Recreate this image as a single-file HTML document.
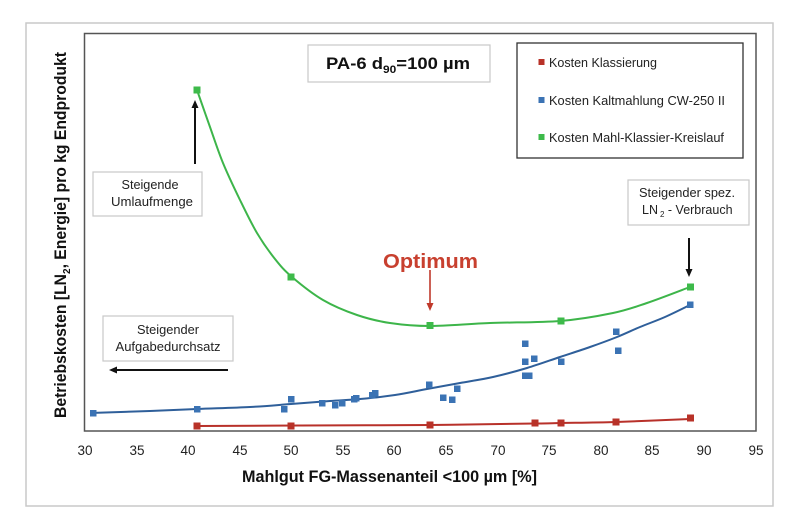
<!DOCTYPE html>
<html><head><meta charset="utf-8"><style>
html,body{margin:0;padding:0;background:#fff;}
svg{display:block;}
text{font-family:"Liberation Sans",sans-serif;}
</style></head><body>
<svg id="chart" width="800" height="532" viewBox="0 0 800 532" xmlns="http://www.w3.org/2000/svg">
<rect x="0" y="0" width="800" height="532" fill="#fff"/>
<!-- outer frame -->
<rect x="26" y="23" width="747" height="483" fill="none" stroke="#c9c9c9" stroke-width="1.5"/>
<!-- plot area -->
<rect x="84.5" y="33.5" width="671.5" height="397.5" fill="none" stroke="#555" stroke-width="1.5"/>

<!-- title box -->
<rect x="308" y="45" width="182" height="37" fill="#fff" stroke="#c8c8c8" stroke-width="1.2"/>
<text x="326" y="69" font-size="17" font-weight="bold" fill="#111" textLength="144" lengthAdjust="spacingAndGlyphs">PA-6 d<tspan font-size="11" dy="4">90</tspan><tspan dy="-4">=100 µm</tspan></text>

<!-- legend -->
<rect x="517" y="43" width="226" height="115" fill="#fff" stroke="#333" stroke-width="1.3"/>
<rect x="538.5" y="59" width="6" height="6" fill="#b83228"/>
<text x="549" y="67" font-size="12.5" fill="#222" textLength="108" lengthAdjust="spacingAndGlyphs">Kosten Klassierung</text>
<rect x="538.5" y="97" width="6" height="6" fill="#3b73b4"/>
<text x="549" y="105" font-size="12.5" fill="#222" textLength="176" lengthAdjust="spacingAndGlyphs">Kosten Kaltmahlung CW-250 II</text>
<rect x="538.5" y="134" width="6" height="6" fill="#3dba4a"/>
<text x="549" y="142" font-size="12.5" fill="#222" textLength="175" lengthAdjust="spacingAndGlyphs">Kosten Mahl-Klassier-Kreislauf</text>

<!-- annotation boxes -->
<rect x="93" y="172" width="109" height="44" fill="#fff" stroke="#c8c8c8" stroke-width="1.2"/>
<text x="150" y="189" font-size="12.5" fill="#222" text-anchor="middle" textLength="57" lengthAdjust="spacingAndGlyphs">Steigende</text>
<text x="152" y="206" font-size="12.5" fill="#222" text-anchor="middle" textLength="82" lengthAdjust="spacingAndGlyphs">Umlaufmenge</text>

<rect x="628" y="180" width="121" height="45" fill="#fff" stroke="#c8c8c8" stroke-width="1.2"/>
<text x="687" y="197" font-size="12.5" fill="#222" text-anchor="middle" textLength="96" lengthAdjust="spacingAndGlyphs">Steigender spez.</text>
<text x="642" y="214" font-size="12.5" fill="#222">LN<tspan font-size="8" dy="3" dx="2">2</tspan><tspan dy="-3"> - Verbrauch</tspan></text>

<rect x="103" y="316" width="130" height="45" fill="#fff" stroke="#c8c8c8" stroke-width="1.2"/>
<text x="168" y="334" font-size="12.5" fill="#222" text-anchor="middle" textLength="62" lengthAdjust="spacingAndGlyphs">Steigender</text>
<text x="168" y="351" font-size="12.5" fill="#222" text-anchor="middle" textLength="105" lengthAdjust="spacingAndGlyphs">Aufgabedurchsatz</text>

<!-- arrows -->
<g stroke="#111" stroke-width="2" fill="#111">
<line x1="195" y1="164" x2="195" y2="106"/>
<polygon points="195,100 191.5,108 198.5,108" stroke="none"/>
<line x1="689" y1="238" x2="689" y2="270"/>
<polygon points="689,277 685.5,269 692.5,269" stroke="none"/>
<line x1="228" y1="370" x2="116" y2="370"/>
<polygon points="109,370 117,366.5 117,373.5" stroke="none"/>
</g>
<g stroke="#c0392b" stroke-width="1.6" fill="#c0392b">
<line x1="430" y1="270" x2="430" y2="304"/>
<polygon points="430,311 426.5,303 433.5,303" stroke="none"/>
</g>
<text x="383" y="268" font-size="20.5" font-weight="bold" fill="#c8402f" textLength="95" lengthAdjust="spacingAndGlyphs">Optimum</text>

<!-- series lines -->
<polyline class="smooth" fill="none" stroke="#3db54a" stroke-width="2" stroke-linejoin="round" points="197,90 210,127 223,163 240,200 257,233 275,259 292,277 323,300 357,315 390,323 430,326 490,323 560,321 613,313 647,303 690,287"/>
<polyline class="smooth" fill="none" stroke="#2f5f9a" stroke-width="2" stroke-linejoin="round" points="90,413 150,411 197,409 250,407 291,404 330,401 360,399 395,395 427,389 460,383 493,377 527,368 560,357 590,347 617,337 640,327 665,317 690,305"/>
<polyline class="smooth" fill="none" stroke="#b8312a" stroke-width="2" stroke-linejoin="round" points="197,426 300,425.5 430,425 535,423.5 561,423 616,422 690,419"/>

<!-- red markers -->
<g fill="#b83228">
<rect x="193.5" y="422.5" width="7" height="7"/>
<rect x="287.5" y="422.5" width="7" height="7"/>
<rect x="426.5" y="421.5" width="7" height="7"/>
<rect x="531.5" y="419.5" width="7" height="7"/>
<rect x="557.5" y="419.5" width="7" height="7"/>
<rect x="612.5" y="418.5" width="7" height="7"/>
<rect x="687" y="414.5" width="7" height="7"/>
</g>
<!-- blue markers -->
<g fill="#3b73b4">
<rect x="90" y="410" width="6.5" height="6.5"/>
<rect x="194" y="406" width="6.5" height="6.5"/>
<rect x="281" y="406" width="6.5" height="6.5"/>
<rect x="288" y="396" width="6.5" height="6.5"/>
<rect x="319" y="400" width="6.5" height="6.5"/>
<rect x="332" y="402" width="6.5" height="6.5"/>
<rect x="339" y="400" width="6.5" height="6.5"/>
<rect x="351" y="396" width="6.5" height="6.5"/>
<rect x="353" y="395" width="6.5" height="6.5"/>
<rect x="369" y="392" width="6.5" height="6.5"/>
<rect x="372" y="390" width="6.5" height="6.5"/>
<rect x="426" y="381.5" width="6.5" height="6.5"/>
<rect x="440" y="394.5" width="6.5" height="6.5"/>
<rect x="449" y="396.5" width="6.5" height="6.5"/>
<rect x="454" y="385.5" width="6.5" height="6.5"/>
<rect x="522" y="340.5" width="6.5" height="6.5"/>
<rect x="522" y="358.5" width="6.5" height="6.5"/>
<rect x="531" y="355.5" width="6.5" height="6.5"/>
<rect x="522" y="372.5" width="6.5" height="6.5"/>
<rect x="526" y="372.5" width="6.5" height="6.5"/>
<rect x="558" y="358.5" width="6.5" height="6.5"/>
<rect x="613" y="328.5" width="6.5" height="6.5"/>
<rect x="615" y="347.5" width="6.5" height="6.5"/>
<rect x="687" y="301.5" width="6.5" height="6.5"/>
</g>
<!-- green markers -->
<g fill="#3dba4a">
<rect x="193.5" y="86.5" width="7" height="7"/>
<rect x="287.5" y="273.5" width="7" height="7"/>
<rect x="426.5" y="322" width="7" height="7"/>
<rect x="557.5" y="317.5" width="7" height="7"/>
<rect x="687" y="283.5" width="7" height="7"/>
</g>

<!-- x tick labels -->
<g font-size="13.5" fill="#222" text-anchor="middle">
<text x="85" y="455">30</text>
<text x="137" y="455">35</text>
<text x="188" y="455">40</text>
<text x="240" y="455">45</text>
<text x="291" y="455">50</text>
<text x="343" y="455">55</text>
<text x="394" y="455">60</text>
<text x="446" y="455">65</text>
<text x="498" y="455">70</text>
<text x="549" y="455">75</text>
<text x="601" y="455">80</text>
<text x="652" y="455">85</text>
<text x="704" y="455">90</text>
<text x="756" y="455">95</text>
</g>

<!-- axis titles -->
<text x="242" y="482" font-size="17" font-weight="bold" fill="#111" textLength="295" lengthAdjust="spacingAndGlyphs">Mahlgut FG-Massenanteil &lt;100 µm [%]</text>
<text transform="translate(66,418) rotate(-90)" x="0" y="0" font-size="16.5" font-weight="bold" fill="#111" textLength="366" lengthAdjust="spacingAndGlyphs">Betriebskosten [LN<tspan font-size="10.5" dy="4">2</tspan><tspan dy="-4">, Energie] pro kg Endprodukt</tspan></text>
</svg>
<script>
(function(){
  var NS="http://www.w3.org/2000/svg";
  var lines=document.querySelectorAll("polyline.smooth");
  for(var i=0;i<lines.length;i++){
    var pl=lines[i];
    var pts=pl.getAttribute("points").trim().split(/\s+/).map(function(s){var a=s.split(",");return [parseFloat(a[0]),parseFloat(a[1])];});
    var d="M"+pts[0][0]+","+pts[0][1];
    for(var k=0;k<pts.length-1;k++){
      var p0=pts[k>0?k-1:k],p1=pts[k],p2=pts[k+1],p3=pts[k+2<pts.length?k+2:k+1];
      var c1x=p1[0]+(p2[0]-p0[0])/6,c1y=p1[1]+(p2[1]-p0[1])/6;
      var c2x=p2[0]-(p3[0]-p1[0])/6,c2y=p2[1]-(p3[1]-p1[1])/6;
      d+=" C"+c1x.toFixed(2)+","+c1y.toFixed(2)+" "+c2x.toFixed(2)+","+c2y.toFixed(2)+" "+p2[0]+","+p2[1];
    }
    var path=document.createElementNS(NS,"path");
    path.setAttribute("d",d);
    path.setAttribute("fill","none");
    path.setAttribute("stroke",pl.getAttribute("stroke"));
    path.setAttribute("stroke-width",pl.getAttribute("stroke-width"));
    pl.parentNode.replaceChild(path,pl);
  }
})();
</script>
</body></html>
